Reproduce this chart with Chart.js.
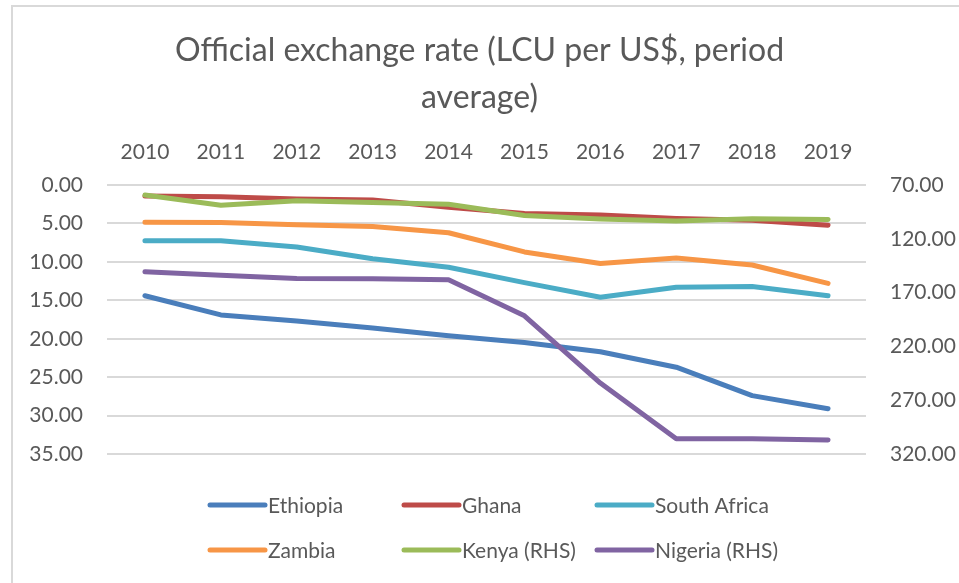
<!DOCTYPE html>
<html>
<head>
<meta charset="utf-8">
<script src="https://cdn.jsdelivr.net/npm/chart.js@4.4.1/dist/chart.umd.min.js"></script>
<style>
  body { margin: 0; background: #fff; }
  #wrap { position: relative; width: 959px; height: 583px; }
  #frame { position: absolute; left: 11px; top: 5px; right: 0; bottom: 0;
           border-left: 2px solid #d9d9d9; border-top: 2px solid #d9d9d9; pointer-events: none; }
</style>
</head>
<body>
<div id="wrap">
  <canvas id="grafiek"></canvas>
  <div id="frame"></div>
</div>
<script>
var jaren = ['2010', '2011', '2012', '2013', '2014', '2015', '2016', '2017', '2018', '2019'];

// left axis (LCU per US$)
var ethiopia = [14.4, 16.9, 17.7, 18.6, 19.6, 20.5, 21.7, 23.7, 27.4, 29.1];
var ghana = [1.43, 1.51, 1.80, 1.95, 2.90, 3.71, 3.91, 4.35, 4.59, 5.22];
var zuidAfrika = [7.25, 7.26, 8.05, 9.6, 10.7, 12.7, 14.6, 13.3, 13.2, 14.4];
var zambia = [4.85, 4.86, 5.15, 5.40, 6.2, 8.7, 10.2, 9.5, 10.4, 12.8];
// right axis
var kenya = [79.2, 88.8, 84.5, 86.1, 87.9, 98.2, 101.5, 103.4, 101.3, 102.0];
var nigeria = [150.5, 153.9, 156.9, 157.0, 158.0, 191.5, 254.0, 305.8, 305.9, 307.0];

var linksTicks = [0, 35, 5];
var rechtsTicks = [70, 320, 50];

var grijs = '#595959';
var font = 'Lato, "Open Sans", sans-serif';

function reeks(naam, data, kleur, as, volgorde) {
    return {
        label: naam,
        data: data,
        borderColor: kleur,
        backgroundColor: kleur,
        borderWidth: 5,
        borderCapStyle: 'round',
        borderJoinStyle: 'round',
        pointRadius: 0,
        tension: 0,
        fill: false,
        yAxisID: as,
        order: volgorde
    };
}

// legend in two rows of three, like the original
var legendaGrid = {
    id: 'legendaGrid',
    afterDraw: function (chart) {
        var ctx = chart.ctx;
        var sets = chart.data.datasets;
        var kolommen = [208, 402, 595];
        var rijen = [505, 550];
        ctx.save();
        ctx.font = '21px ' + font;
        ctx.textBaseline = 'middle';
        ctx.textAlign = 'left';
        for (var i = 0; i < sets.length; i++) {
            var x = kolommen[i % 3];
            var y = rijen[Math.floor(i / 3)];
            ctx.strokeStyle = sets[i].borderColor;
            ctx.lineWidth = 5;
            ctx.lineCap = 'round';
            ctx.beginPath();
            ctx.moveTo(x + 2, y);
            ctx.lineTo(x + 57, y);
            ctx.stroke();
            ctx.fillStyle = grijs;
            ctx.fillText(sets[i].label, x + 60, y + 1);
        }
        ctx.restore();
    }
};

var lijn = document.getElementById('grafiek').getContext('2d');
var chart = new Chart(lijn, {
    type: 'line',
    data: {
        labels: jaren,
        datasets: [
            reeks('Ethiopia', ethiopia, '#4a7ebb', 'y', 6),
            reeks('Ghana', ghana, '#be4b48', 'y', 5),
            reeks('South Africa', zuidAfrika, '#4bacc6', 'y', 4),
            reeks('Zambia', zambia, '#f79646', 'y', 3),
            reeks('Kenya (RHS)', kenya, '#9bbb59', 'y1', 2),
            reeks('Nigeria (RHS)', nigeria, '#8064a2', 'y1', 1)
        ]
    },
    options: {
        responsive: true,
        maintainAspectRatio: false,
        animation: false,
        layout: { padding: { left: 0, right: 0, top: 0, bottom: 129 } },
        plugins: {
            legend: { display: false },
            tooltip: { enabled: false },
            title: {
                display: true,
                text: ['Official exchange rate (LCU per US$, period', 'average)'],
                color: grijs,
                font: { family: font, size: 32, weight: 'normal', lineHeight: 1.47 },
                padding: { top: 27, bottom: 0 }
            }
        },
        scales: {
            x: {
                position: 'top',
                offset: true,
                grid: { display: false },
                border: { display: false },
                ticks: { color: grijs, font: { family: font, size: 21 }, padding: 12 },
                afterFit: function (s) { s.height = 64; }
            },
            y: {
                position: 'left',
                reverse: true,
                min: linksTicks[0],
                max: linksTicks[1],
                grid: { color: '#d9d9d9', lineWidth: 2, drawTicks: false },
                border: { display: false },
                ticks: {
                    stepSize: linksTicks[2],
                    color: grijs,
                    font: { family: font, size: 21 },
                    padding: 24,
                    callback: function (v) { return v.toFixed(2); }
                },
                afterFit: function (s) { s.width = 107; }
            },
            y1: {
                position: 'right',
                reverse: true,
                min: rechtsTicks[0],
                max: rechtsTicks[1],
                grid: { drawOnChartArea: false, drawTicks: false },
                border: { display: false },
                ticks: {
                    stepSize: rechtsTicks[2],
                    color: grijs,
                    font: { family: font, size: 21 },
                    padding: 24,
                    callback: function (v) { return v.toFixed(2); }
                },
                afterFit: function (s) { s.width = 93; }
            }
        }
    },
    plugins: [legendaGrid]
});
</script>
</body>
</html>
